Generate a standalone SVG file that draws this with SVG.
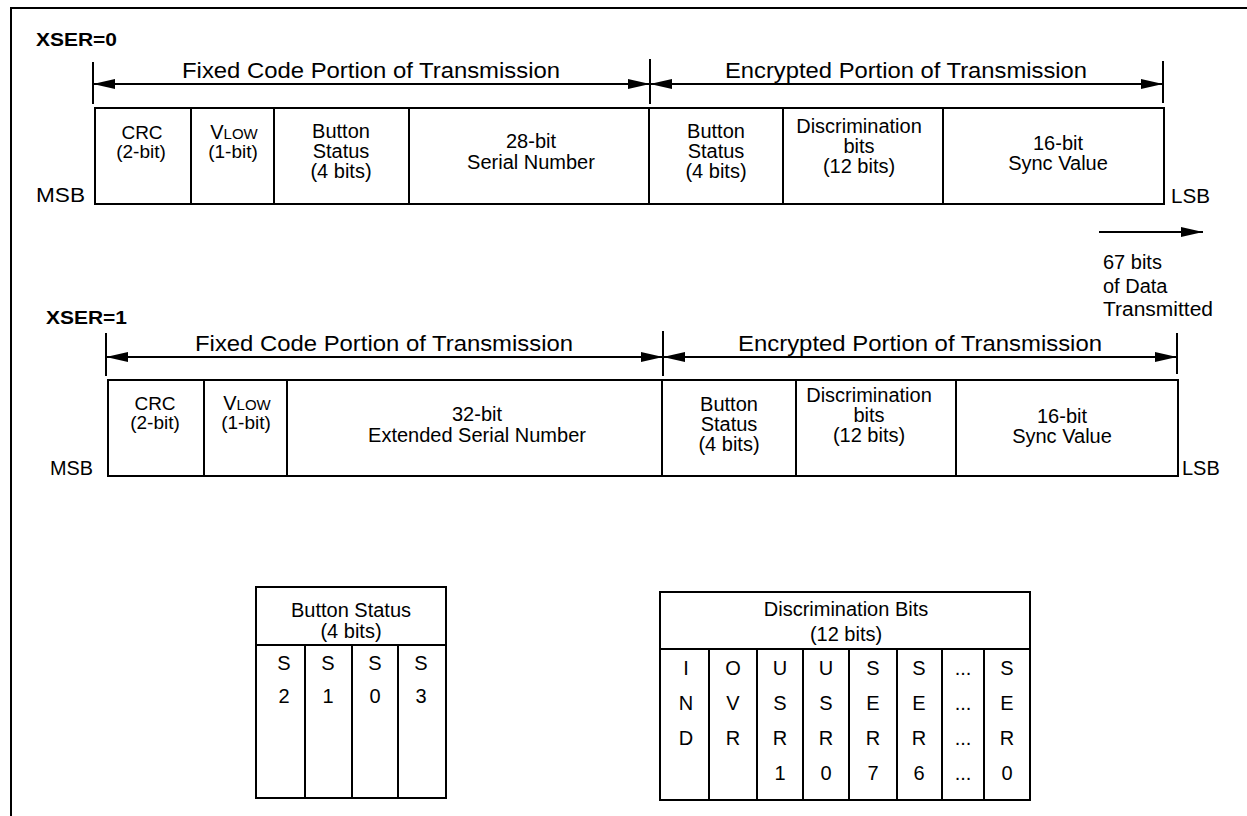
<svg xmlns="http://www.w3.org/2000/svg" width="1247" height="816" viewBox="0 0 1247 816">
<defs>
<marker id="ah" markerUnits="userSpaceOnUse" markerWidth="22" markerHeight="10" refX="22" refY="5" orient="auto-start-reverse">
<path d="M0,0 L22,5 L0,10 z" fill="#000"/>
</marker>
<style>
text{font-family:"Liberation Sans",Arial,Helvetica,sans-serif;fill:#000}
.b{font-size:20px;text-anchor:middle}
.s{font-size:19px;text-anchor:middle}
.h{font-size:22px;text-anchor:middle}
.l{font-size:20px}
.x{font-size:19px;font-weight:bold}
.box{fill:#fff;stroke:#000;stroke-width:2}
.ln{stroke:#000;stroke-width:2;fill:none}
.ar{stroke:#000;stroke-width:2;fill:none}
</style>
</defs>
<rect width="1247" height="816" fill="#fff"/>
<rect x="11" y="8" width="1260" height="830" class="ln"/>

<g id="labels">
<text class="x" x="36" y="46" textLength="81" lengthAdjust="spacingAndGlyphs">XSER=0</text>
<text class="x" x="46" y="324" textLength="81" lengthAdjust="spacingAndGlyphs">XSER=1</text>
<text class="l" x="36" y="202" textLength="49" lengthAdjust="spacingAndGlyphs">MSB</text>
<text class="l" x="1171" y="203" textLength="39" lengthAdjust="spacingAndGlyphs">LSB</text>
<text class="l" x="50" y="475" textLength="43" lengthAdjust="spacingAndGlyphs">MSB</text>
<text class="l" x="1182" y="475">LSB</text>
<text class="l" x="1103" y="269">67 bits</text>
<text class="l" x="1103" y="293">of Data</text>
<text class="l" x="1103" y="316" textLength="110" lengthAdjust="spacingAndGlyphs">Transmitted</text>
<text class="h" x="371" y="78" textLength="378" lengthAdjust="spacingAndGlyphs">Fixed Code Portion of Transmission</text>
<text class="h" x="906" y="78" textLength="362" lengthAdjust="spacingAndGlyphs">Encrypted Portion of Transmission</text>
<text class="h" x="384" y="351" textLength="378" lengthAdjust="spacingAndGlyphs">Fixed Code Portion of Transmission</text>
<text class="h" x="920" y="351" textLength="364" lengthAdjust="spacingAndGlyphs">Encrypted Portion of Transmission</text>
</g>

<g id="connectors">
<line class="ln" x1="93" y1="62" x2="93" y2="104"/>
<line class="ln" x1="650" y1="59" x2="650" y2="104"/>
<line class="ln" x1="1163" y1="61" x2="1163" y2="103"/>
<line class="ar" x1="93" y1="84" x2="650" y2="84" marker-start="url(#ah)" marker-end="url(#ah)"/>
<line class="ar" x1="650" y1="84" x2="1163" y2="84" marker-start="url(#ah)" marker-end="url(#ah)"/>
<line class="ln" x1="106" y1="333" x2="106" y2="376"/>
<line class="ln" x1="663" y1="331" x2="663" y2="376"/>
<line class="ln" x1="1177" y1="333" x2="1177" y2="374"/>
<line class="ar" x1="106" y1="357" x2="663" y2="357" marker-start="url(#ah)" marker-end="url(#ah)"/>
<line class="ar" x1="663" y1="357" x2="1177" y2="357" marker-start="url(#ah)" marker-end="url(#ah)"/>
<line class="ar" x1="1099" y1="232" x2="1203" y2="232" marker-end="url(#ah)"/>
</g>

<g id="frame0">
<rect class="box" x="95" y="108" width="1069" height="96"/>
<g id="f0-crc"><line class="ln" x1="191" y1="108" x2="191" y2="204"/>
<text class="s" x="142" y="139">CRC</text><text class="s" x="141" y="158">(2-bit)</text></g>
<g id="f0-vlow"><line class="ln" x1="274" y1="108" x2="274" y2="204"/>
<text class="s" x="234" y="139"><tspan font-size="20">V</tspan><tspan font-size="15">LOW</tspan></text><text class="s" x="233" y="158">(1-bit)</text></g>
<g id="f0-btn"><line class="ln" x1="409" y1="108" x2="409" y2="204"/>
<text class="b" x="341" y="138">Button</text><text class="b" x="341" y="158">Status</text><text class="b" x="341" y="178">(4 bits)</text></g>
<g id="f0-ser"><line class="ln" x1="649" y1="108" x2="649" y2="204"/>
<text class="b" x="531" y="148">28-bit</text><text class="b" x="531" y="169">Serial Number</text></g>
<g id="f0-btn2"><line class="ln" x1="783" y1="108" x2="783" y2="204"/>
<text class="b" x="716" y="138">Button</text><text class="b" x="716" y="158">Status</text><text class="b" x="716" y="178">(4 bits)</text></g>
<g id="f0-disc"><line class="ln" x1="943" y1="108" x2="943" y2="204"/>
<text class="b" x="859" y="133">Discrimination</text><text class="b" x="859" y="153">bits</text><text class="b" x="859" y="173">(12 bits)</text></g>
<g id="f0-sync">
<text class="b" x="1058" y="150">16-bit</text><text class="b" x="1058" y="170">Sync Value</text></g>
</g>

<g id="frame1">
<rect class="box" x="108" y="380" width="1070" height="96"/>
<g id="f1-crc"><line class="ln" x1="204" y1="380" x2="204" y2="476"/>
<text class="s" x="155" y="410">CRC</text><text class="s" x="155" y="429">(2-bit)</text></g>
<g id="f1-vlow"><line class="ln" x1="287" y1="380" x2="287" y2="476"/>
<text class="s" x="247" y="410"><tspan font-size="20">V</tspan><tspan font-size="15">LOW</tspan></text><text class="s" x="246" y="429">(1-bit)</text></g>
<g id="f1-ser"><line class="ln" x1="662" y1="380" x2="662" y2="476"/>
<text class="b" x="477" y="421">32-bit</text><text class="b" x="477" y="442">Extended Serial Number</text></g>
<g id="f1-btn"><line class="ln" x1="796" y1="380" x2="796" y2="476"/>
<text class="b" x="729" y="411">Button</text><text class="b" x="729" y="431">Status</text><text class="b" x="729" y="451">(4 bits)</text></g>
<g id="f1-disc"><line class="ln" x1="956" y1="380" x2="956" y2="476"/>
<text class="b" x="869" y="402">Discrimination</text><text class="b" x="869" y="422">bits</text><text class="b" x="869" y="442">(12 bits)</text></g>
<g id="f1-sync">
<text class="b" x="1062" y="423">16-bit</text><text class="b" x="1062" y="443">Sync Value</text></g>
</g>

<g id="button-table">
<rect class="box" x="256" y="587" width="190" height="211"/>
<line class="ln" x1="256" y1="645" x2="446" y2="645"/>
<line class="ln" x1="305" y1="645" x2="305" y2="798"/>
<line class="ln" x1="352" y1="645" x2="352" y2="798"/>
<line class="ln" x1="398" y1="645" x2="398" y2="798"/>
<text class="b" x="351" y="617">Button Status</text>
<text class="b" x="351" y="638">(4 bits)</text>
<text class="b" x="284" y="670">S</text><text class="b" x="284" y="703">2</text>
<text class="b" x="328" y="670">S</text><text class="b" x="328" y="703">1</text>
<text class="b" x="375" y="670">S</text><text class="b" x="375" y="703">0</text>
<text class="b" x="421" y="670">S</text><text class="b" x="421" y="703">3</text>
</g>

<g id="disc-table">
<rect class="box" x="660" y="592" width="370" height="208"/>
<line class="ln" x1="660" y1="649" x2="1030" y2="649"/>
<line class="ln" x1="709" y1="649" x2="709" y2="800"/>
<line class="ln" x1="757" y1="649" x2="757" y2="800"/>
<line class="ln" x1="803" y1="649" x2="803" y2="800"/>
<line class="ln" x1="849" y1="649" x2="849" y2="800"/>
<line class="ln" x1="897" y1="649" x2="897" y2="800"/>
<line class="ln" x1="942" y1="649" x2="942" y2="800"/>
<line class="ln" x1="984" y1="649" x2="984" y2="800"/>
<text class="b" x="846" y="616" font-size="21">Discrimination Bits</text>
<text class="b" x="846" y="641" font-size="21">(12 bits)</text>
<text class="b" x="686" y="675">I</text><text class="b" x="686" y="710">N</text><text class="b" x="686" y="745">D</text>
<text class="b" x="733" y="675">O</text><text class="b" x="733" y="710">V</text><text class="b" x="733" y="745">R</text>
<text class="b" x="780" y="675">U</text><text class="b" x="780" y="710">S</text><text class="b" x="780" y="745">R</text><text class="b" x="780" y="780">1</text>
<text class="b" x="826" y="675">U</text><text class="b" x="826" y="710">S</text><text class="b" x="826" y="745">R</text><text class="b" x="826" y="780">0</text>
<text class="b" x="873" y="675">S</text><text class="b" x="873" y="710">E</text><text class="b" x="873" y="745">R</text><text class="b" x="873" y="780">7</text>
<text class="b" x="919" y="675">S</text><text class="b" x="919" y="710">E</text><text class="b" x="919" y="745">R</text><text class="b" x="919" y="780">6</text>
<text class="b" x="963" y="675">...</text><text class="b" x="963" y="710">...</text><text class="b" x="963" y="745">...</text><text class="b" x="963" y="780">...</text>
<text class="b" x="1007" y="675">S</text><text class="b" x="1007" y="710">E</text><text class="b" x="1007" y="745">R</text><text class="b" x="1007" y="780">0</text>
</g>
</svg>
